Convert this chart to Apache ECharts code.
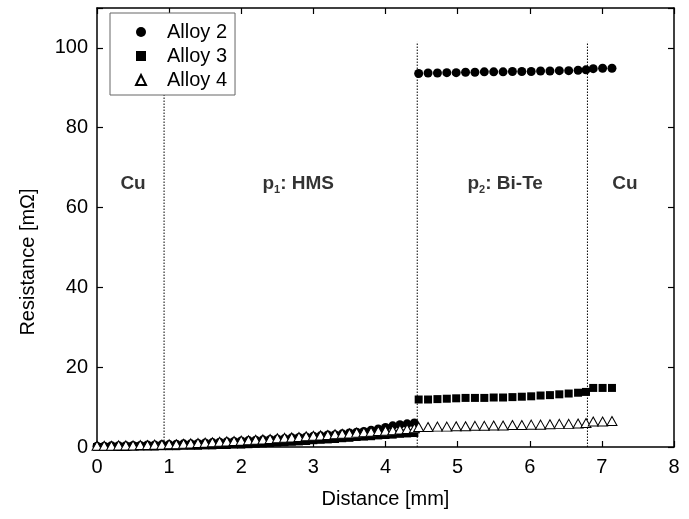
<!DOCTYPE html>
<html>
<head>
<meta charset="utf-8">
<script src="https://cdn.jsdelivr.net/npm/echarts@6/dist/echarts.min.js"></script>
<style>html,body{margin:0;padding:0;background:#fff}#c{width:689px;height:519px}</style>
</head>
<body>
<div id="c"></div>
<script>
// ---- data ----
const xLeft = [0.0,0.1,0.2,0.3,0.4,0.5,0.6,0.7,0.8,0.9,1.0,1.1,1.2,1.3,1.4,1.5,1.6,1.7,1.8,1.9,2.0,2.1,2.2,2.3,2.4,2.5,2.6,2.7,2.8,2.9,3.0,3.1,3.2,3.3,3.4,3.5,3.6,3.7,3.8,3.9,4.0,4.1,4.2,4.3,4.4];
const alloy2Left = [0.2,0.2,0.3,0.3,0.3,0.4,0.4,0.5,0.5,0.6,0.6,0.7,0.8,0.8,0.9,1.0,1.1,1.2,1.3,1.4,1.5,1.6,1.7,1.8,1.9,2.0,2.1,2.3,2.4,2.5,2.7,2.8,3.0,3.1,3.3,3.5,3.7,3.9,4.2,4.5,4.9,5.3,5.6,5.8,6.0];
const alloy3Left = [0.0,0.0,0.0,0.0,0.0,0.1,0.1,0.1,0.1,0.2,0.2,0.2,0.3,0.3,0.3,0.4,0.4,0.5,0.5,0.6,0.6,0.7,0.8,0.9,1.0,1.1,1.2,1.3,1.4,1.5,1.7,1.8,1.9,2.0,2.2,2.3,2.5,2.6,2.7,2.9,3.0,3.1,3.3,3.4,3.5];
const alloy4Left = [0.3,0.3,0.3,0.4,0.4,0.4,0.5,0.5,0.6,0.6,0.7,0.7,0.8,0.9,1.0,1.1,1.2,1.3,1.4,1.5,1.6,1.7,1.8,1.9,2.0,2.2,2.3,2.4,2.5,2.7,2.8,2.9,3.0,3.2,3.3,3.4,3.6,3.7,3.8,4.0,4.1,4.2,4.4,4.5,4.7];
const xRight = [4.46,4.59,4.72,4.85,4.98,5.11,5.24,5.37,5.50,5.63,5.76,5.89,6.02,6.15,6.28,6.41,6.54,6.67,6.78,6.88,7.01,7.14];
const alloy2Right = [93.6,93.7,93.7,93.8,93.8,93.9,93.9,94.0,94.0,94.0,94.1,94.1,94.1,94.2,94.2,94.3,94.3,94.4,94.5,94.8,94.9,94.9];
const alloy3Right = [11.9,11.9,12.0,12.1,12.2,12.3,12.3,12.3,12.4,12.4,12.5,12.6,12.7,12.9,13.0,13.2,13.4,13.6,13.8,14.8,14.8,14.8];
const alloy4Right = [5.0,5.0,5.1,5.1,5.2,5.2,5.3,5.3,5.4,5.4,5.5,5.5,5.6,5.6,5.7,5.8,5.8,5.9,6.0,6.4,6.4,6.5];
const boundaries = [0.93, 4.44, 6.80];
const boundaryTop = 101.5;
const regionNames = ['Cu', '{b|p}{s|1}{b|: HMS}', '{b|p}{s|2}{b|: Bi-Te}', 'Cu'];
const regionX = [0.50, 2.79, 5.66, 7.32];
const regionY = [66, 66, 66, 66];
const seriesNames = ['Alloy 2', 'Alloy 3', 'Alloy 4'];
const xTicks = [0, 1, 2, 3, 4, 5, 6, 7, 8];
const yTicks = [0, 20, 40, 60, 80, 100];

// ---- build ----
const FONT = 'Liberation Sans, Arial, sans-serif';
function pts(xs, ys) { return xs.map((x, i) => [x, ys[i]]); }
const a2 = pts(xLeft, alloy2Left).concat(pts(xRight, alloy2Right));
const a3 = pts(xLeft, alloy3Left).concat(pts(xRight, alloy3Right));
const a4 = pts(xLeft, alloy4Left).concat(pts(xRight, alloy4Right));

const axisCommon = {
  axisLine: { show: true, onZero: false, lineStyle: { color: '#000', width: 1.5 } },
  axisTick: { show: true, inside: true, length: 6, lineStyle: { color: '#000', width: 1.2 } },
  splitLine: { show: false }
};

const series = [
  { name: seriesNames[0], type: 'scatter', data: a2, symbol: 'circle', symbolSize: 9,
    itemStyle: { color: '#000', opacity: 1 }, z: 3 },
  { name: seriesNames[1], type: 'scatter', data: a3, symbol: 'rect', symbolSize: 8,
    itemStyle: { color: '#000', opacity: 1 }, z: 4 },
  { name: seriesNames[2], type: 'scatter', data: a4, symbol: 'triangle', symbolSize: [10, 9],
    itemStyle: { color: '#fff', borderColor: '#000', borderWidth: 1, opacity: 1 }, z: 5 }
];
boundaries.forEach(b => {
  series.push({ type: 'line', data: [[b, 0], [b, boundaryTop]], symbol: 'none', silent: true,
    lineStyle: { color: '#000', width: 1, type: [1.5, 1.5] }, z: 2 });
});
series.push({
  type: 'scatter', silent: true, symbolSize: 0, z: 6,
  data: regionX.map((x, i) => ({ value: [x, regionY[i]], name: regionNames[i] })),
  label: {
    show: true, position: 'inside', formatter: p => p.name,
    fontFamily: FONT, fontWeight: 'bold', fontSize: 19, color: '#000',
    rich: {
      b: { fontFamily: FONT, fontWeight: 'bold', fontSize: 19, color: '#000' },
      s: { fontFamily: FONT, fontWeight: 'bold', fontSize: 11, color: '#000', padding: [12, 0, 0, 0] }
    }
  }
});

const chart = echarts.init(document.getElementById('c'), null, { renderer: 'canvas' });
chart.setOption({
  animation: false,
  backgroundColor: '#fff',
  grid: { left: 97, right: 15, top: 8, bottom: 72 },
  legend: {
    data: seriesNames, orient: 'vertical', left: 110, top: 13,
    padding: [9, 8, 5, 25], itemGap: 4, itemWidth: 10, itemHeight: 10,
    borderColor: '#666', borderWidth: 1, backgroundColor: '#fff',
    textStyle: { fontFamily: FONT, fontSize: 20, color: '#000', lineHeight: 20, padding: [0, 0, 0, 16] }
  },
  xAxis: [
    Object.assign({ type: 'value', min: xTicks[0], max: xTicks[xTicks.length - 1], interval: 1, position: 'bottom',
      name: 'Distance [mm]', nameLocation: 'middle', nameGap: 42,
      nameTextStyle: { fontFamily: FONT, fontSize: 20, color: '#000' },
      axisLabel: { fontFamily: FONT, fontSize: 20, color: '#000', margin: 10 } }, axisCommon),
    Object.assign({ type: 'value', min: xTicks[0], max: xTicks[xTicks.length - 1], interval: 1, position: 'top',
      axisLabel: { show: false } }, axisCommon)
  ],
  yAxis: [
    Object.assign({ type: 'value', min: 0, max: 110, interval: 20, position: 'left',
      axisLabel: { fontFamily: FONT, fontSize: 20, color: '#000', margin: 9,
        formatter: v => (yTicks.indexOf(v) >= 0 ? String(v) : '') } }, axisCommon),
    Object.assign({ type: 'value', min: 0, max: 110, interval: 20, position: 'right',
      axisLabel: { show: false } }, axisCommon)
  ],
  graphic: [{
    type: 'text', x: 28, y: 262, rotation: Math.PI / 2,
    style: { text: 'Resistance [mΩ]', fontFamily: FONT, fontSize: 20, fill: '#000',
      textAlign: 'center', textVerticalAlign: 'middle' }
  }],
  series: series
});
</script>
</body>
</html>
